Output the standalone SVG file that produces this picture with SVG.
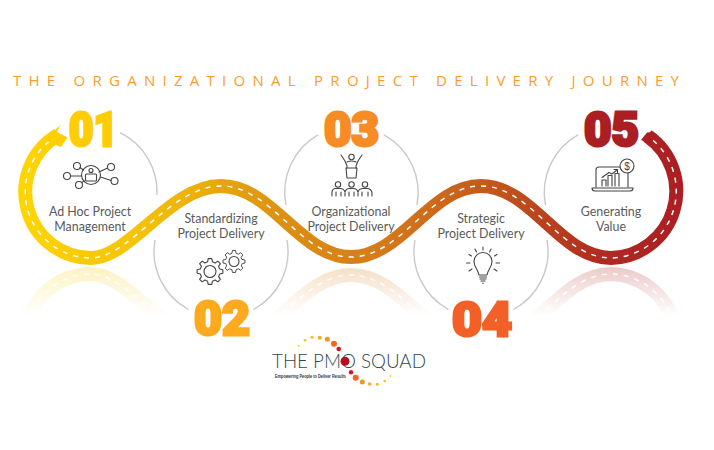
<svg xmlns="http://www.w3.org/2000/svg" xmlns:xlink="http://www.w3.org/1999/xlink" width="714" height="450" viewBox="0 0 714 450">
<style>
.ring{fill:none;stroke:#c9c9c9;stroke-width:1.4}
.num{font-family:Roboto,"Liberation Sans",sans-serif;font-weight:900;font-size:48px;stroke-width:3;stroke-linejoin:miter;paint-order:stroke}
.lbl{font-family:Lato,"Liberation Sans",sans-serif;font-size:12.4px;fill:#5a5a5a;text-anchor:middle}
.ico{fill:none;stroke:#444;stroke-width:1.1;stroke-linecap:round;stroke-linejoin:round}
.dash{fill:none;stroke:#fff;stroke-width:1.5;stroke-dasharray:5 6}
</style>
<defs>
<linearGradient id="rg" gradientUnits="userSpaceOnUse" x1="20" y1="0" x2="684" y2="0">
<stop offset="0" stop-color="#ffd500"/><stop offset=".18" stop-color="#f5c20a"/><stop offset=".4" stop-color="#dc8f12"/><stop offset=".55" stop-color="#d5791a"/><stop offset=".72" stop-color="#c2551b"/><stop offset=".88" stop-color="#ae2a22"/><stop offset="1" stop-color="#ab1e24"/>
</linearGradient>
<linearGradient id="fade" gradientUnits="userSpaceOnUse" x1="0" y1="266" x2="0" y2="316">
<stop offset="0" stop-color="#fff" stop-opacity=".25"/><stop offset="1" stop-color="#fff" stop-opacity="0"/>
</linearGradient>
<mask id="m" maskUnits="userSpaceOnUse" x="0" y="266" width="714" height="60"><rect x="0" y="266" width="714" height="60" fill="url(#fade)"/></mask>
<path id="road" d="M58,135 A66,66 0 0 0 91,258 C130,258 170,186 221,186 C272,186 300,257 351,257 C402,257 430,186 481,186 C532,186 560,258 611,258 A67,67 0 0 0 647.5,136"/>
<g id="roadAll"><use href="#road" fill="none" stroke="url(#rg)" stroke-width="14"/><use href="#road" class="dash"/></g>
<path id="gear" d="M9.7,-2.42 12.87,-1.81 12.87,1.81 9.7,2.42 8.57,5.15 10.38,7.82 7.82,10.38 5.15,8.57 2.42,9.7 1.81,12.87 -1.81,12.87 -2.42,9.7 -5.15,8.57 -7.82,10.38 -10.38,7.82 -8.57,5.15 -9.7,2.42 -12.87,1.81 -12.87,-1.81 -9.7,-2.42 -8.57,-5.15 -10.38,-7.82 -7.82,-10.38 -5.15,-8.57 -2.42,-9.7 -1.81,-12.87 1.81,-12.87 2.42,-9.7 5.15,-8.57 7.82,-10.38 10.38,-7.82 8.57,-5.15Z"/>
</defs>
<rect width="714" height="450" fill="#fff"/>
<text x="13" y="86" textLength="666" lengthAdjust="spacing" font-family="'Open Sans','Liberation Sans',sans-serif" font-size="15" fill="#f99d2c">THE ORGANIZATIONAL PROJECT DELIVERY JOURNEY</text>

<g id="rings">
<path class="ring" d="M120,132.7 A66,66 0 0 1 157,195"/>
<path class="ring" d="M155,240 A66,66 0 0 0 188.500,309.500"/>
<path class="ring" d="M253.500,309.500 A66,66 0 0 0 287,240"/>
<path class="ring" d="M318,134.800 A66,66 0 0 0 286,205"/>
<path class="ring" d="M384,134.800 A66,66 0 0 1 417,205"/>
<path class="ring" d="M415,240 A66,66 0 0 0 448.500,309.500"/>
<path class="ring" d="M513.500,309.500 A66,66 0 0 0 547,240"/>
<path class="ring" d="M578,134.800 A66,66 0 0 0 545.500,205"/>
</g>

<g id="reflection" mask="url(#m)"><use href="#roadAll" transform="translate(0,532) scale(1,-1)"/></g>

<g id="connectors">
<use href="#roadAll"/>
<polygon points="44,140 60.500,125 57,132 67.500,137.500 61,147" fill="#ffcf05"/>
</g>

<g id="node-1">
<text class="num" x="69" y="145.500" textLength="49" lengthAdjust="spacingAndGlyphs" fill="#ffcc05" stroke="#ffcc05">01</text>
<g class="ico">
<circle cx="91" cy="175" r="9.500"/><circle cx="91" cy="170.500" r="2"/><rect x="85.500" y="174" width="11" height="7" rx="1"/>
<circle cx="77" cy="166" r="3.500"/><circle cx="67" cy="176" r="3.500"/><circle cx="79" cy="185" r="3.500"/><circle cx="111" cy="167" r="3.500"/><circle cx="114.500" cy="181" r="3.500"/>
<path d="M80,167.500 L83.500,170 M70.500,176 H81.500 M81.500,182.500 L84.500,181 M107.500,168 L99,172 M111,180.500 L100.500,177"/>
</g>
<text class="lbl" x="90" y="216">Ad Hoc Project</text>
<text class="lbl" x="90" y="231">Management</text>
</g>

<g id="node-2">
<text class="num" x="194" y="334.500" textLength="56" lengthAdjust="spacingAndGlyphs" fill="#fdaa1f" stroke="#fdaa1f">02</text>
<g class="ico">
<use href="#gear" transform="translate(210,271.500)"/><circle cx="210" cy="271.500" r="6"/>
<use href="#gear" transform="translate(234,261.500) scale(.85)"/><circle cx="234" cy="261.500" r="5"/>
</g>
<text class="lbl" x="221" y="223">Standardizing</text>
<text class="lbl" x="221" y="238">Project Delivery</text>
</g>

<g id="node-3">
<text class="num" x="324" y="145.500" textLength="55" lengthAdjust="spacingAndGlyphs" fill="#f78b24" stroke="#f78b24">03</text>
<g class="ico">
<circle cx="351.500" cy="157" r="2.700"/>
<path d="M341,155 L345,161 L347,166 V168 M362,155 L358,161 L356,166 V168 M347,162 Q351.500,160 356,162"/>
<path d="M346,168 H357 L356,178 H347Z"/>
<circle cx="338" cy="184.500" r="2.700"/><circle cx="351.500" cy="184.500" r="2.700"/><circle cx="365" cy="184.500" r="2.700"/>
<path d="M332,196 V192.500 Q332,188.500 336,188.500 H340 Q344,188.500 345,192 Q346,188.500 349.500,188.500 H353.500 Q357,188.500 358,192 Q359,188.500 363,188.500 H367 Q371,188.500 372,192.500 V196 M336,192 V196 M341,192 V196 M345,193 V196 M349,192 V196 M354,192 V196 M358,193 V196 M362,192 V196 M368,192 V196"/>
</g>
<text class="lbl" x="351" y="216">Organizational</text>
<text class="lbl" x="351" y="231">Project Delivery</text>
</g>

<g id="node-4">
<text class="num" x="452" y="335.500" textLength="60" lengthAdjust="spacingAndGlyphs" fill="#f26027" stroke="#f26027">04</text>
<g class="ico">
<path d="M479,275 C478,269 474,267 474,261.500 A9,9 0 0 1 492,261.500 C492,267 488,269 487,275Z"/>
<path d="M479.500,277 H486.500 M480,279 H486 M481,281 H485 M483,283 V283.500"/>
<path d="M483,247 V250 M475,249 L476.500,252 M491,249 L489.500,252 M469,254.500 L471.500,256 M497,254.500 L494.500,256 M466.500,263 H470 M496,263 H499.500 M469,271 L472,269 M497,271 L494,269"/>
</g>
<text class="lbl" x="481" y="223">Strategic</text>
<text class="lbl" x="481" y="238">Project Delivery</text>
</g>

<g id="node-5">
<text class="num" x="584" y="145.500" textLength="55" lengthAdjust="spacingAndGlyphs" fill="#ab1e24" stroke="#ab1e24">05</text>
<g class="ico">
<path d="M596,187 V170 Q596,167 599,167 H620 M628,173 V187"/>
<path d="M592,188 H633 Q633,191 630,191 H595 Q592,191 592,188Z"/>
<circle cx="627" cy="166" r="7"/>
<path d="M602,186 V180 H606 V186 M608,186 V175.500 H612 V186 M615,186 V173.500 H619 V186"/>
<path d="M602,177.500 L609,172.500 L612,174 L617,170 M614,169.500 H617.500 V172.500"/>
</g>
<text x="627" y="169.500" text-anchor="middle" font-family="'Liberation Sans',sans-serif" font-size="10" fill="#444">$</text>
<text class="lbl" x="611" y="216">Generating</text>
<text class="lbl" x="611" y="231">Value</text>
</g>
<polygon id="road-end" points="641,140 647,132.500 652,132 657.500,135 650,144" fill="#ab1e24"/>

<g id="logo">
<text x="272" y="368" textLength="154" lengthAdjust="spacingAndGlyphs" font-family="Lato,'Liberation Sans',sans-serif" font-weight="300" font-size="20" fill="#2f474c">THE PMO SQUAD</text>
<text x="275" y="377.500" textLength="71" lengthAdjust="spacingAndGlyphs" font-family="'Liberation Sans',sans-serif" font-weight="700" font-size="4.500" fill="#333">Empowering People to Deliver Results</text>
<g>
<circle cx="298.700" cy="345.700" r="1" fill="#ffd500"/><circle cx="305" cy="340.300" r="1.300" fill="#ffc20e"/><circle cx="312" cy="337.300" r="1.500" fill="#fdb813"/><circle cx="319.700" cy="337.700" r="2" fill="#fbaa19"/><circle cx="327.300" cy="339.300" r="2.500" fill="#f79420"/><circle cx="334" cy="343.700" r="3" fill="#f26522"/><circle cx="338.700" cy="349" r="2.300" fill="#e01020"/><circle cx="345" cy="361.300" r="4.500" fill="#b01020"/><circle cx="351" cy="372.300" r="2.200" fill="#e01020"/><circle cx="355.700" cy="377.700" r="3" fill="#f26522"/><circle cx="362.300" cy="382" r="2.500" fill="#f79420"/><circle cx="369.700" cy="384" r="1.800" fill="#fbaa19"/><circle cx="377.300" cy="384.300" r="1.500" fill="#fdb813"/><circle cx="384.700" cy="381" r="1.300" fill="#ffc20e"/><circle cx="390.300" cy="376" r="1" fill="#ffd500"/>
</g>
</g>
</svg>
